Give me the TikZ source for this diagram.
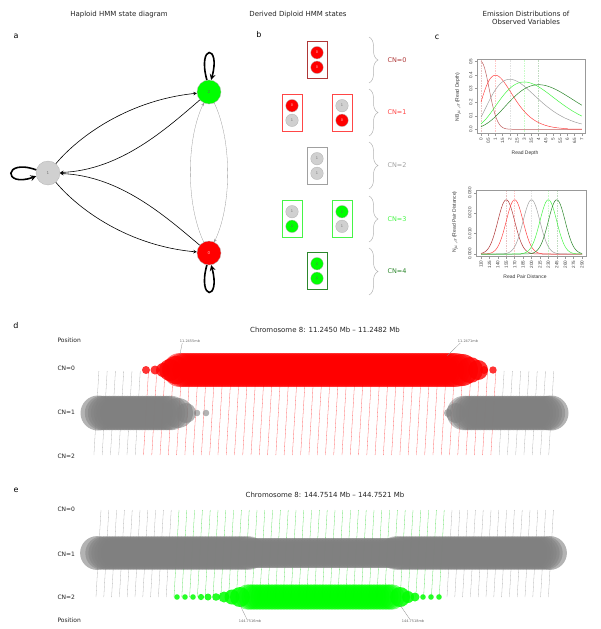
\documentclass[tikz,border=0pt]{standalone}
\usepackage{fontspec}
\setmainfont{DejaVu Sans}
\newfontfamily\plotfont{Liberation Sans}
\usepackage{tikz}
\usetikzlibrary{arrows, positioning, calc, fit, decorations.pathreplacing}
\definecolor{hmmred}{RGB}{255, 0, 0}
\definecolor{hmmgreen}{RGB}{0, 255, 0}
\definecolor{hmmgray}{RGB}{208, 208, 208}
\definecolor{bandgray}{RGB}{128, 128, 128}
\definecolor{cnzero}{RGB}{175, 55, 55}
\definecolor{cnone}{RGB}{255, 70, 70}
\definecolor{cntwo}{RGB}{160, 160, 160}
\definecolor{cnthree}{RGB}{70, 245, 70}
\definecolor{cnfour}{RGB}{45, 135, 45}
\definecolor{titlegray}{RGB}{35, 35, 35}
\colorlet{st0}{hmmred}
\colorlet{st1}{hmmgray}
\colorlet{st2}{hmmgreen}
\colorlet{tx0}{white!75!red}
\colorlet{tx1}{black!55}
\colorlet{tx2}{black!60}

\begin{document}
\begin{tikzpicture}[
    x=1pt, y=-1pt,
    title/.style={font=\fontsize{7}{8.5}\selectfont, text=titlegray, align=center},
    panel/.style={font=\fontsize{8}{8}\selectfont},
    hstate/.style={circle, draw=black!30, line width=0.3pt, minimum size=24pt, inner sep=0pt, font=\fontsize{4}{4}\selectfont},
    dstate/.style={circle, draw=black!30, line width=0.3pt, minimum size=12.5pt, inner sep=0pt, font=\fontsize{3.5}{3.5}\selectfont},
    trans/.style={->, >=stealth, line width=0.6pt},
    weak/.style={->, >=stealth, line width=0.3pt, draw=black!40},
    selfloop/.style={->, >=stealth, line width=1.6pt},
    cnbox/.style={draw, line width=0.6pt, inner xsep=3.8pt, inner ysep=5pt},
    cnbrace/.style={decorate, decoration={brace, amplitude=9pt}, draw=black!30, line width=0.5pt},
    cnlabel/.style={anchor=west, font=\fontsize{6.5}{6.5}\selectfont},
    axisbox/.style={draw=black!40, line width=0.5pt},
    ticklabel/.style={font=\plotfont\fontsize{4.6}{4.6}\selectfont, text=black!75, inner sep=0.8pt, rotate=90},
    axislabel/.style={font=\plotfont\fontsize{5}{5}\selectfont, text=black!80},
    curve/.style={line width=0.5pt},
    meanline/.style={line width=0.4pt, dash pattern=on 1.5pt off 1pt, opacity=0.3},
    rowlabel/.style={anchor=west, font=\fontsize{6}{6}\selectfont, text=titlegray},
    poslabel/.style={font=\fontsize{3.5}{3.5}\selectfont, text=black!60, inner sep=0.5pt},
    leader/.style={draw=black!45, line width=0.3pt},
    colline/.style={line width=0.3pt, opacity=0.6},
    redblob/.style={fill=hmmred, fill opacity=0.5},
    redend/.style={fill=hmmred, fill opacity=0.8},
    grayblob/.style={fill=bandgray, fill opacity=0.5},
    grayend/.style={fill=bandgray, fill opacity=0.6},
    greenblob/.style={fill=hmmgreen, fill opacity=0.5},
    greenend/.style={fill=hmmgreen, fill opacity=0.85}
]
    \useasboundingbox (0,0) rectangle (600,629);

    % titles and panel letters
    \node[title] (ttla) at (119,15) {Haploid HMM state diagram};
    \node[title] (ttlb) at (298,15) {Derived Diploid HMM states};
    \node[title] (ttlc) at (526,18) {Emission Distributions of\\Observed Variables};
    \node[title] (ttld) at (325,330) {Chromosome 8: 11.2450 Mb -- 11.2482 Mb};
    \node[title] (ttle) at (325,495) {Chromosome 8: 144.7514 Mb -- 144.7521 Mb};
    \node[panel] (pa) at (16,36) {a};
    \node[panel] (pb) at (259,35) {b};
    \node[panel] (pc) at (437,37) {c};
    \node[panel] (pd) at (16,326) {d};
    \node[panel] (pe) at (16,490) {e};

    % a: haploid states
    \node[hstate, fill=st1, text=tx1] (one) at (48,173) {1};
    \node[hstate, fill=st2, text=tx2] (two) at (209,92) {2};
    \node[hstate, fill=st0, text=tx0] (zero) at (209,253) {0};

    \draw[selfloop] (one.165) .. controls (3,158) and (3,188) .. (one.195);
    \draw[selfloop] (two.100) .. controls (197,44) and (221,44) .. (two.80);
    \draw[selfloop] (zero.260) .. controls (197,301) and (221,301) .. (zero.280);

    \draw[trans] (one) .. controls (80,135) and (130,100) .. (two);
    \draw[trans] (two) .. controls (165,130) and (120,170) .. (one);
    \draw[trans] (one) .. controls (80,211) and (130,246) .. (zero);
    \draw[trans] (zero) .. controls (165,216) and (120,176) .. (one);
    \draw[weak] (zero) .. controls (186,205) and (186,140) .. (two);
    \draw[weak] (two) .. controls (232,140) and (232,205) .. (zero);

    % b: diploid states
    \foreach \nm/\bx/\by/\up/\dn/\cl in {
        z/317/60/0/0/cnzero, oa/292/113/0/1/cnone, ob/342/113/1/0/cnone,
        t/317/166/1/1/cntwo, ha/292/219/1/2/cnthree, hb/342/219/2/1/cnthree,
        f/317/271/2/2/cnfour}{
        \node[dstate, fill=st\up, text=tx\up] (\nm-up) at (\bx,\by-7.3) {\up};
        \node[dstate, fill=st\dn, text=tx\dn] (\nm-dn) at (\bx,\by+7.3) {\dn};
        \node[cnbox, draw=\cl, fit=(\nm-up)(\nm-dn)] (\nm-box) {};
    }
    \foreach \cn/\ya/\yb/\cl in {0/37/83/cnzero, 1/89/136/cnone, 2/142/189/cntwo,
        3/196/242/cnthree, 4/248/295/cnfour}{
        \draw[cnbrace] (369,\ya) -- (369,\yb);
        \node[cnlabel, text=\cl] (cn\cn) at (384,{(\ya+\yb)/2}) {CN=\cn};
    }

    % c: read depth
    \foreach \m/\cl in {0/cnzero, 1/cnone, 2/cntwo, 3/cnthree, 4/cnfour}
        \draw[meanline, draw=\cl] ({481+14.4*\m},60) -- ({481+14.4*\m},133);
    \draw[curve, cnzero!80] plot[domain=0:7, samples=90] ({481+14.4*\x}, {129.3-135.2*0.5*exp(-1.6*\x*\x)});
    \draw[curve, cnone] plot[domain=0:7, samples=90] ({481+14.4*\x}, {129.3-135.2*0.4*((\x+1)/2)^3.57*exp(3.57*(1-(\x+1)/2))});
    \draw[curve, cntwo] plot[domain=0:7, samples=90] ({481+14.4*\x}, {129.3-135.2*0.37*((\x+1)/3)^3.27*exp(3.27*(1-(\x+1)/3))});
    \draw[curve, cnthree] plot[domain=0:7, samples=90] ({481+14.4*\x}, {129.3-135.2*0.35*((\x+1.5)/4.5)^5.02*exp(5.02*(1-(\x+1.5)/4.5))});
    \draw[curve, cnfour] plot[domain=0:7, samples=90] ({481+14.4*\x}, {129.3-135.2*0.33*((\x+2)/6)^6.5*exp(6.5*(1-(\x+2)/6))});
    \draw[axisbox] (477,59) rectangle (585,133);
    \foreach \t [count=\k] in {0,0.5,1,1.5,2,2.5,3,3.5,4,4.5,5,5.5,6,6.5,7}{
        \draw[axisbox] ({481+14.4*\t},133) -- ({481+14.4*\t},135.5);
        \node[ticklabel, anchor=east] (dx\k) at ({481+14.4*\t},136.5) {\t};
    }
    \foreach \t [count=\k] in {0.0,0.1,0.2,0.3,0.4,0.5}{
        \draw[axisbox] (477,{129.3-135.2*\t}) -- (474.5,{129.3-135.2*\t});
        \node[ticklabel, anchor=south] (dy\k) at (473.5,{129.3-135.2*\t}) {\t};
    }
    \node[axislabel] (dxl) at (525,153) {Read Depth};
    \node[axislabel, rotate=90] (dyl) at (458,97) {NB$_{\mu,\sigma}$(Read Depth)};

    % c: read pair distance
    \foreach \m/\cl in {155/cnzero, 170/cnone, 200/cntwo, 230/cnthree, 245/cnfour}{
        \draw[meanline, draw=\cl] ({481+(\m-110)*0.5611},190) -- ({481+(\m-110)*0.5611},256);
        \draw[curve, \cl] plot[domain=110:290, samples=90] ({481+(\x-110)*0.5611}, {254-2040*0.0266*exp(-0.5*((\x-\m)/15)*((\x-\m)/15))});
    }
    \draw[axisbox] (476,190) rectangle (586,256);
    \foreach \t [count=\k] in {110,125,...,290}{
        \draw[axisbox] ({481+(\t-110)*0.5611},256) -- ({481+(\t-110)*0.5611},258.5);
        \node[ticklabel, anchor=east] (px\k) at ({481+(\t-110)*0.5611},259.5) {\t};
    }
    \foreach \t [count=\k] in {0.000,0.010,0.020,0.030}{
        \draw[axisbox] (476,{254-2040*\t}) -- (473.5,{254-2040*\t});
        \node[ticklabel, anchor=south] (py\k) at (472.5,{254-2040*\t}) {\t};
    }
    \node[axislabel] (pxl) at (525,277) {Read Pair Distance};
    \node[axislabel, rotate=90] (pyl) at (455,222) {N$_{\mu,\sigma}$(Read Pair Distance)};

    % d: deletion track
    \node[rowlabel] (dpos) at (54,340) {Position};
    \node[rowlabel] (dcn0) at (54,368) {CN=0};
    \node[rowlabel] (dcn1) at (54,412.5) {CN=1};
    \node[rowlabel] (dcn2) at (54,456.5) {CN=2};
    \foreach \i in {0,...,5,49,50,...,55}
        \draw[colline, bandgray] ({96.4+8.27*\i+2.5},371) -- ({96.4+8.27*\i-2.5},455);
    \foreach \i in {6,...,48}
        \draw[colline, hmmred] ({96.4+8.27*\i+2.5},371) -- ({96.4+8.27*\i-2.5},455);
    \foreach \bx/\br in {98/17.5, 178/15, 186/10, 197/3.3, 206/3.3, 448/4, 456/10, 551/17.5}
        \fill[grayend] (\bx,413) circle (\br);
    \foreach \bx in {102,105,...,171}
        \fill[grayblob] (\bx,413) circle (17.2);
    \foreach \bx in {464,467,...,548}
        \fill[grayblob] (\bx,413) circle (17.2);
    \foreach \bx/\br in {146/4, 155/4.5, 163/7, 170/11, 176/14, 462/16, 470/13, 478/10, 484/4, 493/3.7}
        \fill[redend] (\bx,370) circle (\br);
    \foreach \bx in {180,183,...,456}
        \fill[redblob] (\bx,370) circle (17);
    \node[poslabel] (dposa) at (190,341) {11.2455mb};
    \node[poslabel] (dposb) at (468,341) {11.2471mb};
    \coordinate (dposa-end) at (180,354);
    \coordinate (dposb-end) at (447,356);
    \draw[leader] ([xshift=3pt]dposa.south west) -- (dposa-end);
    \draw[leader] ([xshift=3pt]dposb.south west) -- (dposb-end);

    % e: duplication track
    \node[rowlabel] (ecn0) at (54,509.5) {CN=0};
    \node[rowlabel] (ecn1) at (54,554) {CN=1};
    \node[rowlabel] (ecn2) at (54,597) {CN=2};
    \node[rowlabel] (epos) at (54,620.5) {Position};
    \foreach \i in {0,...,9,45,46,...,58}
        \draw[colline, bandgray] ({98.5+7.8*\i+2.5},510) -- ({98.5+7.8*\i-2.5},597);
    \foreach \i in {10,...,44}
        \draw[colline, hmmgreen!80!black] ({98.5+7.8*\i+2.5},510) -- ({98.5+7.8*\i-2.5},597);
    \foreach \bx in {97,550}
        \fill[grayend] (\bx,553) circle (16.9);
    \foreach \bx in {102,105,...,249}
        \fill[grayblob] (\bx,553) circle (16.7);
    \foreach \bx in {252,255,...,393}
        \fill[grayblob] (\bx,553) circle (15);
    \foreach \bx in {396,399,...,546}
        \fill[grayblob] (\bx,553) circle (16.7);
    \foreach \bx/\br in {177/2.8, 185/2.8, 193/2.8, 201/3.1, 208/3.5, 216/3.8, 224/5.5, 232/7.5, 240/10,
        400/10, 408/6, 415/4.5, 423/2.8, 431/2.8, 439/2.8}
        \fill[greenend] (\bx,597) circle (\br);
    \foreach \bx in {248,251,...,392}
        \fill[greenblob] (\bx,597) circle (12.7);
    \node[poslabel] (eposa) at (250,621.5) {144.7516mb};
    \node[poslabel] (eposb) at (413,621.5) {144.7518mb};
    \coordinate (eposa-end) at (240,605);
    \coordinate (eposb-end) at (400,605);
    \draw[leader] ([xshift=-3pt]eposa.north) -- (eposa-end);
    \draw[leader] ([xshift=-3pt]eposb.north) -- (eposb-end);

\end{tikzpicture}
\end{document}
